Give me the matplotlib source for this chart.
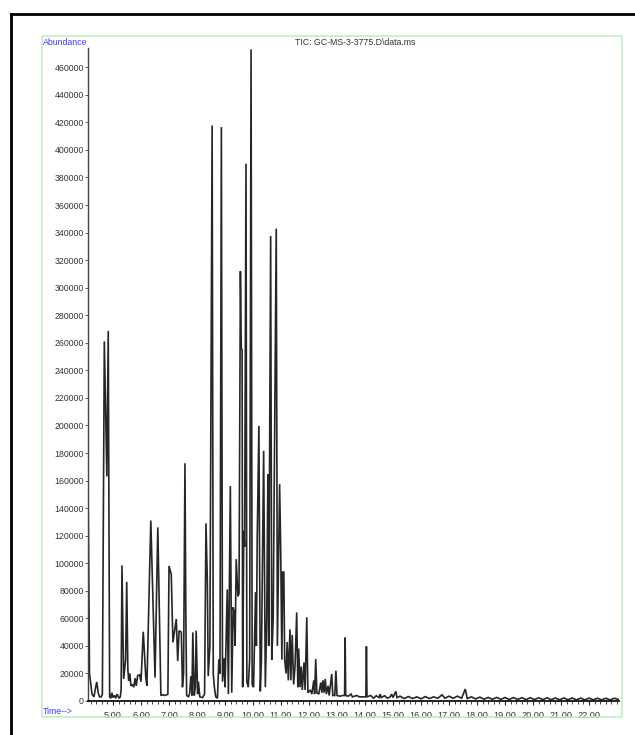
import matplotlib
matplotlib.use("Agg")
import matplotlib.pyplot as plt
from matplotlib.lines import Line2D
from matplotlib.patches import Rectangle
from matplotlib.ticker import MultipleLocator

plt.rcParams['font.family'] = ['Liberation Sans', 'DejaVu Sans']

# Retention time (min) and abundance vertices
times = [4.107, 4.12, 4.16, 4.25, 4.32, 4.38, 4.42, 4.47, 4.52, 4.58,
         4.62, 4.69, 4.78, 4.83, 4.88, 4.92, 4.96, 5.00, 5.05, 5.10,
         5.14, 5.18, 5.22, 5.26, 5.29, 5.32, 5.38, 5.45, 5.49, 5.53,
         5.56, 5.60, 5.64, 5.69, 5.74, 5.79, 5.83, 5.88, 5.95, 6.00,
         6.08, 6.17, 6.21, 6.35, 6.50, 6.60, 6.71, 6.78, 6.85, 6.92,
         6.96, 7.00, 7.08, 7.14, 7.26, 7.31, 7.36, 7.44, 7.48, 7.52,
         7.57, 7.60, 7.63, 7.70, 7.74, 7.78, 7.82, 7.85, 7.90, 7.94,
         7.97, 8.02, 8.05, 8.10, 8.20, 8.27, 8.32, 8.37, 8.40, 8.46,
         8.54, 8.58, 8.62, 8.67, 8.73, 8.78, 8.82, 8.87, 8.91, 8.97,
         9.00, 9.04, 9.08, 9.12, 9.19, 9.24, 9.29, 9.33, 9.36, 9.40,
         9.46, 9.50, 9.55, 9.58, 9.61, 9.63, 9.67, 9.70, 9.75, 9.78,
         9.83, 9.88, 9.93, 9.97, 10.02, 10.09, 10.12, 10.15, 10.21, 10.26,
         10.30, 10.38, 10.44, 10.49, 10.53, 10.56, 10.63, 10.67, 10.72, 10.76,
         10.83, 10.87, 10.95, 10.99, 11.03, 11.06, 11.10, 11.13, 11.18, 11.22,
         11.26, 11.32, 11.35, 11.40, 11.45, 11.50, 11.56, 11.60, 11.63, 11.68,
         11.72, 11.76, 11.82, 11.86, 11.92, 11.96, 12.05, 12.10, 12.17, 12.20,
         12.24, 12.28, 12.35, 12.42, 12.46, 12.50, 12.54, 12.58, 12.62, 12.68,
         12.72, 12.81, 12.85, 12.92, 12.96, 13.00, 13.10, 13.20, 13.27, 13.29,
         13.31, 13.40, 13.50, 13.55, 13.70, 13.80, 14.03, 14.05, 14.07, 14.20,
         14.30, 14.40, 14.50, 14.54, 14.58, 14.70, 14.80, 14.90, 14.95, 15.00,
         15.10, 15.14, 15.25, 15.40, 15.55, 15.70, 15.85, 16.00, 16.15, 16.30,
         16.45, 16.60, 16.75, 16.85, 17.00, 17.15, 17.30, 17.45, 17.58, 17.65,
         17.80, 17.95, 18.10, 18.25, 18.40, 18.55, 18.70, 18.85, 19.00, 19.15,
         19.30, 19.45, 19.60, 19.75, 19.90, 20.05, 20.20, 20.35, 20.50, 20.65,
         20.80, 20.95, 21.10, 21.25, 21.40, 21.55, 21.70, 21.85, 22.00, 22.15,
         22.30, 22.45, 22.60, 22.75, 22.90, 23.07]
abundance = [166000, 130000, 20000, 5000, 3000, 10000, 13800, 6000, 3000, 3000,
             5000, 261000, 163000, 268600, 3000, 2000, 6000, 2500, 4000, 2000,
             5000, 3500, 2000, 3000, 8000, 98500, 16000, 30000, 86500, 23000,
             14700, 20000, 11000, 12000, 10000, 16500, 11000, 18400, 19000, 14000,
             50300, 17400, 11000, 131000, 17000, 126000, 4000, 4500, 4000, 4500,
             5000, 98000, 92000, 42500, 59500, 29000, 51000, 50000, 10000, 20000,
             172600, 64600, 4000, 3000, 6000, 18000, 4000, 49800, 4000, 10000,
             51000, 5000, 14000, 3000, 2500, 5000, 129000, 86000, 18000, 40000,
             417800, 20000, 10000, 3000, 2000, 30000, 20000, 416600, 14000, 31000,
             10000, 46000, 81000, 5000, 156000, 6000, 68000, 64000, 40000, 103000,
             76000, 78000, 312000, 256000, 255000, 10000, 123500, 112000, 390000, 14000,
             10000, 30000, 473000, 12000, 10000, 79000, 40000, 117500, 199700, 7000,
             30000, 181600, 10000, 60000, 164700, 40000, 337500, 30000, 60000, 163400,
             342900, 40000, 157400, 108000, 30000, 93600, 93600, 30000, 20000, 42800,
             15000, 52000, 15000, 48000, 12000, 25000, 64300, 10000, 38000, 10000,
             25000, 8000, 28000, 8000, 60700, 6000, 8000, 5000, 15000, 5000,
             30500, 6000, 5000, 13500, 6000, 15000, 6000, 16000, 5000, 11000,
             4000, 19600, 4000, 4000, 22000, 4000, 3500, 4000, 4000, 46000,
             4000, 3500, 5000, 3000, 4000, 3000, 3000, 39600, 3000, 4000,
             2000, 3800, 2500, 5000, 2500, 3800, 2000, 3000, 5000, 2500,
             7000, 2500, 3500, 1800, 3200, 1800, 3000, 1600, 3200, 1800,
             3000, 2000, 4500, 2000, 3500, 2000, 3500, 2000, 8700, 1800,
             3000, 1500, 2800, 1300, 2600, 1200, 2600, 1200, 2500, 1100,
             2500, 1100, 2400, 1000, 2400, 1000, 2300, 1000, 2300, 900,
             2200, 900, 2200, 900, 2200, 800, 2100, 800, 2100, 800,
             2000, 800, 2000, 800, 2000, 1000]

y_ticks = list(range(0, 460001, 20000))
x_ticks = [5, 6, 7, 8, 9, 10, 11, 12, 13, 14, 15, 16, 17, 18, 19, 20, 21, 22]
title_text = "TIC: GC-MS-3-3775.D\\data.ms"

W, H = 635, 735
fig = plt.figure(figsize=(W / 100, H / 100), dpi=100)
fig.patch.set_facecolor('white')

x0, x1, ytop, ybot = 88, 619, 48, 701
ax = fig.add_axes([x0 / W, (H - ybot) / H, (x1 - x0) / W, (ybot - ytop) / H])
ax.plot(times, abundance, color='#262626', lw=1.2, solid_joinstyle='miter')
ax.set_xlim(4.107, 23.07)
ax.set_ylim(0, 474000)

for s in ['top', 'right']:
    ax.spines[s].set_visible(False)
ax.spines['left'].set_color('#444444')
ax.spines['left'].set_linewidth(1.0)
ax.spines['bottom'].set_color('#111111')
ax.spines['bottom'].set_linewidth(1.3)

ax.set_yticks(y_ticks)
ax.set_yticklabels([str(v) for v in y_ticks])
ax.set_xticks(x_ticks)
ax.set_xticklabels([f"{v:.2f}" for v in x_ticks])
ax.xaxis.set_minor_locator(MultipleLocator(0.2))
ax.tick_params(axis='y', direction='out', length=2, width=0.6, pad=1,
               labelsize=6.3, colors='#444444', labelcolor='#333333')
ax.tick_params(axis='x', which='major', direction='out', length=3, width=0.8,
               pad=4, labelsize=6.6, colors='#222222', labelcolor='#333333')
ax.tick_params(axis='x', which='minor', direction='out', length=2, width=0.6,
               colors='#222222')

# texts
fig.text(355 / W, 1 - 42.7 / H, title_text, ha='center', va='center',
         fontsize=6.3, color='#333333')
fig.text(43 / W, 1 - 42.7 / H, "Abundance", ha='left', va='center',
         fontsize=6.3, color='#3a3aff')
fig.text(43 / W, 1 - 712 / H, "Time-->", ha='left', va='center',
         fontsize=6.3, color='#3a3aff')

# green frame
fig.add_artist(Rectangle((42 / W, 1 - 717 / H), (622 - 42) / W, (717 - 36) / H,
                         transform=fig.transFigure, fill=False,
                         edgecolor='#bdeec0', lw=1.1))
# black outer border (top and left)
fig.add_artist(Line2D([10.5 / W, 1.0], [1 - 13.8 / H, 1 - 13.8 / H],
                      transform=fig.transFigure, color='black', lw=2.0))
fig.add_artist(Line2D([10.5 / W, 10.5 / W], [0.0, 1 - 13.8 / H],
                      transform=fig.transFigure, color='black', lw=2.0))

fig.savefig("out.png", dpi=100, facecolor='white')
